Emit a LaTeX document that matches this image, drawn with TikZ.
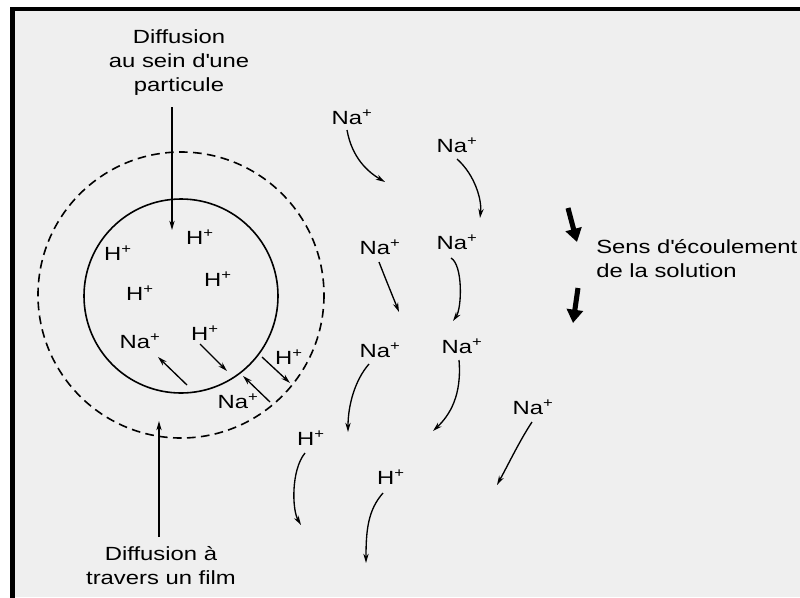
\documentclass[tikz,border=0pt]{standalone}
\usepackage{fontspec}
\setmainfont{Liberation Sans}[FakeStretch=1.25]
\usetikzlibrary{arrows.meta}
\definecolor{bg}{RGB}{239,239,239}
\begin{document}
\begin{tikzpicture}[x=0.75pt,y=-0.75pt,
  lab/.style={inner sep=0pt, font=\fontsize{14.3}{18}\selectfont},
  ion/.style={line width=1pt, -{Stealth[length=7pt,width=4pt]}},
  flow/.style={line width=3.8pt, -{Triangle[length=10pt,width=12pt]}},
  lbl/.style={lab, align=center}]
\useasboundingbox (0,0) rectangle (800,597);
\fill[white] (0,0) rectangle (800,597);
\fill[bg] (12.5,9) rectangle (800,597);
\draw[line width=3.4pt, line join=miter] (12.5,600) -- (12.5,9) -- (803,9);
% particle and film
\draw[line width=1.2pt] (181,296) circle[radius=97];
\draw[line width=1.2pt, dash pattern=on 6.5pt off 4pt] (181,295) circle[radius=143];
% captions
\node[lbl] (top) at (179,63) {Diffusion\\au sein d\textquotesingle une\\particule};
\node[lbl] (bot) at (161,565.5) {Diffusion à\\travers un film};
\node[lab, align=left, anchor=west] (sens) at (596,258.5) {Sens d\textquotesingle écoulement\\de la solution};
\coordinate (ts) at (172,107); \coordinate (te) at (172,230);
\coordinate (bs) at (159,537); \coordinate (be) at (159,421);
\draw[ion] (ts) -- (te);
\draw[ion] (bs) -- (be);
% ions inside
\node[lab] (h1) at (200,237) {H\textsuperscript{+}};
\node[lab] (h2) at (118,253) {H\textsuperscript{+}};
\node[lab] (h3) at (218,279) {H\textsuperscript{+}};
\node[lab] (h4) at (140,293) {H\textsuperscript{+}};
\node[lab] (n1) at (140,341) {Na\textsuperscript{+}};
\node[lab] (h5) at (205,333) {H\textsuperscript{+}};
\node[lab] (h6) at (289,357) {H\textsuperscript{+}};
\node[lab] (n2) at (238,401) {Na\textsuperscript{+}};
\coordinate (i1s) at (187,385); \coordinate (i1e) at (158,357);
\coordinate (i2s) at (200,344); \coordinate (i2e) at (227,371);
\coordinate (i3s) at (262,357); \coordinate (i3e) at (290,383);
\coordinate (i4s) at (270,402); \coordinate (i4e) at (243,376);
\draw[ion] (i1s) -- (i1e);
\draw[ion] (i2s) -- (i2e);
\draw[ion] (i3s) -- (i3e);
\draw[ion] (i4s) -- (i4e);
% ions in solution
\node[lab] (s1) at (352,117) {Na\textsuperscript{+}};
\node[lab] (s2) at (457,145) {Na\textsuperscript{+}};
\node[lab] (s3) at (380,247) {Na\textsuperscript{+}};
\node[lab] (s4) at (457,242) {Na\textsuperscript{+}};
\node[lab] (s5) at (380,350) {Na\textsuperscript{+}};
\node[lab] (s6) at (462,346) {Na\textsuperscript{+}};
\node[lab] (s7) at (311,438) {H\textsuperscript{+}};
\node[lab] (s8) at (391,477) {H\textsuperscript{+}};
\node[lab] (s9) at (533,407) {Na\textsuperscript{+}};
\coordinate (c1s) at (347,130); \coordinate (c1e) at (385,182);
\coordinate (c2s) at (457,159); \coordinate (c2e) at (480,218);
\coordinate (c3s) at (379,262); \coordinate (c3e) at (399,312);
\coordinate (c4s) at (451,258); \coordinate (c4e) at (453,321);
\coordinate (c5s) at (369,364); \coordinate (c5e) at (348,432);
\coordinate (c6s) at (459,360); \coordinate (c6e) at (433,431);
\coordinate (c7s) at (305,453); \coordinate (c7e) at (301,525);
\coordinate (c8s) at (383,493); \coordinate (c8e) at (366,563);
\coordinate (c9s) at (532,422); \coordinate (c9e) at (497,485);
\draw[ion] (c1s) .. controls (352,158) and (368,172) .. (c1e);
\draw[ion] (c2s) .. controls (475,175) and (482,200) .. (c2e);
\draw[ion] (c3s) .. controls (386,280) and (393,297) .. (c3e);
\draw[ion] (c4s) .. controls (463,265) and (462,308) .. (c4e);
\draw[ion] (c5s) .. controls (355,380) and (348,405) .. (c5e);
\draw[ion] (c6s) .. controls (462,395) and (450,415) .. (c6e);
\draw[ion] (c7s) .. controls (291,470) and (292,510) .. (c7e);
\draw[ion] (c8s) .. controls (368,510) and (366,530) .. (c8e);
\draw[ion] (c9s) .. controls (520,440) and (508,465) .. (c9e);
% flow direction
\coordinate (f1s) at (568,208); \coordinate (f1e) at (577,242);
\coordinate (f2s) at (578,288); \coordinate (f2e) at (573,323);
\draw[flow] (f1s) -- (f1e);
\draw[flow] (f2s) -- (f2e);
\end{tikzpicture}
\end{document}
